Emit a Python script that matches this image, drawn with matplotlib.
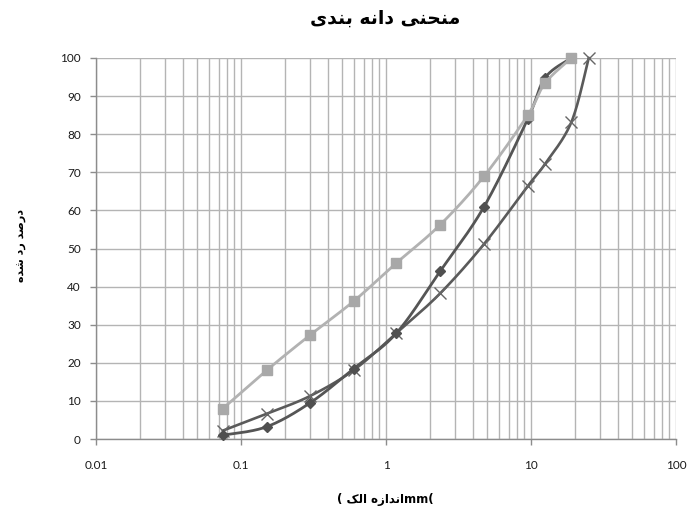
import numpy as np
import matplotlib
matplotlib.use("Agg")
import matplotlib.pyplot as plt
from matplotlib.ticker import FixedLocator, NullFormatter, NullLocator

# ---------------- data ----------------
sieve = [0.075, 0.15, 0.3, 0.6, 1.18, 2.36, 4.75, 9.5, 12.5, 19, 25]
upper = [8, 18, 27.3, 36.2, 46.2, 56.2, 69, 85, 93.4, 100]           # squares
sample = [1, 3.2, 9.5, 18.5, 27.8, 44, 61, 84, 94.8, 100]             # diamonds
lower = [2.2, 6.6, 11.3, 18.1, 27.8, 38.2, 51.2, 66.4, 72.2, 83.2, 100]  # x markers
xticks = [0.01, 0.1, 1, 10, 100]
xtick_labels = ["0.01", "0.1", "1", "10", "100"]
yticks = list(range(0, 101, 10))

title_fa = "منحنی دانه بندی"
ylabel_fa = "درصد رد شده"
xlabel_fa = "اندازه الک"

# ---------------- simple Arabic/Persian shaping ----------------
FORMS = {
    'ا': (0xFE8D, 0xFE8E, None, None),
    'د': (0xFEA9, 0xFEAA, None, None),
    'ر': (0xFEAD, 0xFEAE, None, None),
    'ز': (0xFEAF, 0xFEB0, None, None),
    'ه': (0xFEE9, 0xFEEA, 0xFEEB, 0xFEEC),
    'ب': (0xFE8F, 0xFE90, 0xFE91, 0xFE92),
    'ن': (0xFEE5, 0xFEE6, 0xFEE7, 0xFEE8),
    'م': (0xFEE1, 0xFEE2, 0xFEE3, 0xFEE4),
    'ح': (0xFEA1, 0xFEA2, 0xFEA3, 0xFEA4),
    'ص': (0xFEB9, 0xFEBA, 0xFEBB, 0xFEBC),
    'ش': (0xFEB5, 0xFEB6, 0xFEB7, 0xFEB8),
    'ل': (0xFEDD, 0xFEDE, 0xFEDF, 0xFEE0),
    'ک': (0xFB8E, 0xFB8F, 0xFB90, 0xFB91),
    'ی': (0xFBFC, 0xFBFD, 0xFBFE, 0xFBFF),
}


def dual(c):
    return c in FORMS and FORMS[c][2] is not None


def shape(text):
    out = []
    for i, c in enumerate(text):
        if c not in FORMS:
            out.append(c)
            continue
        prev = text[i - 1] if i > 0 else ''
        nxt = text[i + 1] if i + 1 < len(text) else ''
        join_prev = dual(prev)
        join_next = dual(c) and nxt in FORMS
        iso, fin, ini, med = FORMS[c]
        if join_prev and join_next:
            code = med
        elif join_prev:
            code = fin
        elif join_next:
            code = ini
        else:
            code = iso
        out.append(chr(code))
    return ''.join(out)[::-1]


# ---------------- figure ----------------
fig = plt.figure(figsize=(6.88, 5.17), dpi=100)
ax = fig.add_axes([96 / 688, 78 / 517, 580 / 688, 381 / 517])
ax.set_xscale('log')
ax.set_xlim(0.01, 100)
ax.set_ylim(0, 100)

grid_c = '#b4b4b4'
ax.xaxis.set_major_locator(FixedLocator(xticks))
ax.xaxis.set_minor_locator(FixedLocator(
    [m * 10.0 ** e for e in range(-2, 2) for m in range(2, 10)]))
ax.xaxis.set_minor_formatter(NullFormatter())
ax.set_xticklabels(xtick_labels)
ax.set_yticks(yticks)
ax.yaxis.set_minor_locator(NullLocator())
ax.grid(True, which='major', color=grid_c, lw=1.0)
ax.grid(True, which='minor', axis='x', color=grid_c, lw=1.0)
ax.set_axisbelow(True)

for s in ['top', 'right']:
    ax.spines[s].set_visible(False)
for s in ['left', 'bottom']:
    ax.spines[s].set_color('#8c8c8c')
    ax.spines[s].set_linewidth(1.0)
ax.tick_params(which='major', length=4, color='#8c8c8c', width=1,
               labelsize=8.5, labelcolor='#1a1a1a', pad=7)
ax.tick_params(which='minor', length=0)
for lab in ax.get_xticklabels() + ax.get_yticklabels():
    lab.set_family('Lato')
ax.tick_params(axis='x', pad=11)

fig.canvas.draw()


def smooth_curve(xs, ys, n=30):
    pts = ax.transData.transform(np.column_stack([xs, ys]))
    P = np.vstack([pts[0], pts, pts[-1]])
    curve = []
    t = np.linspace(0, 1, n)[:, None]
    for i in range(1, len(P) - 2):
        p0, p1, p2, p3 = P[i - 1], P[i], P[i + 1], P[i + 2]
        c1 = p1 + (p2 - p0) / 6.0
        c2 = p2 - (p3 - p1) / 6.0
        seg = ((1 - t) ** 3) * p1 + 3 * ((1 - t) ** 2) * t * c1 \
            + 3 * (1 - t) * t ** 2 * c2 + t ** 3 * p2
        curve.append(seg if i == 1 else seg[1:])
    curve = np.vstack(curve)
    d = ax.transData.inverted().transform(curve)
    return d[:, 0], d[:, 1]


series = [
    (sieve[:len(lower)], lower, '#5a5a5a', 'x', '#666666', 8, 1.9, 3),
    (sieve[:len(sample)], sample, '#555555', 'D', '#505050', 5.5, 2.0, 5),
    (sieve[:len(upper)], upper, '#b2b2b2', 's', '#a8a8a8', 7.5, 2.0, 7),
]
for xs, ys, lc, mk, mc, ms, lw, z in series:
    cx, cy = smooth_curve(xs, ys)
    ax.plot(cx, cy, color=lc, lw=lw, zorder=z, clip_on=False)
    if mk == 'x':
        ax.plot(xs, ys, ls='none', marker='x', ms=ms, mew=1.0, color=mc,
                zorder=z + 1, clip_on=False)
    else:
        ax.plot(xs, ys, ls='none', marker=mk, ms=ms, mfc=mc, mec=mc,
                zorder=z + 1, clip_on=False)

fig.text(385 / 688, 1 - 18 / 517, shape(title_fa), ha='center', va='center',
         fontsize=13.5, fontweight='bold', family='DejaVu Sans')
fig.text(22 / 688, 1 - 245 / 517, shape(ylabel_fa), ha='center', va='center',
         rotation=90, fontsize=8, fontweight='bold', family='DejaVu Sans')
fig.text(385 / 688, 1 - 500 / 517, '( ' + shape(xlabel_fa) + 'mm(', ha='center',
         va='center', fontsize=8.5, fontweight='bold', family='DejaVu Sans')

fig.savefig('out.png', dpi=100)
